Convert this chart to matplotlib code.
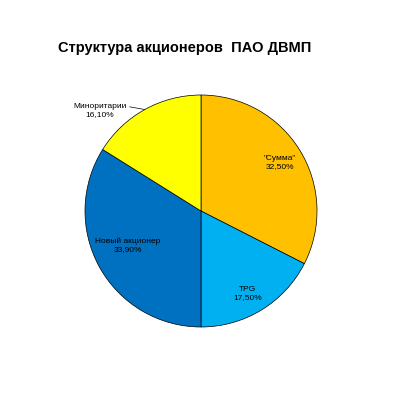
import matplotlib
matplotlib.use("Agg")
import matplotlib.pyplot as plt
import numpy as np

plt.rcParams['font.family'] = ['Liberation Sans', 'DejaVu Sans']

labels = ['"Сумма"', 'TPG', 'Новый акционер', 'Миноритарии']
shares = [32.5, 17.5, 33.9, 16.1]
colors = ['#FFC000', '#00B0F0', '#0070C0', '#FFFF00']

fig = plt.figure(figsize=(4, 4), dpi=100)
ax = fig.add_axes([0.2125, 0.1825, 0.58, 0.58])

wedges, _ = ax.pie(shares, colors=colors, startangle=90, counterclock=False,
                   radius=1.0, wedgeprops=dict(edgecolor='black', linewidth=0.5))
ax.set_xlim(-1, 1)
ax.set_ylim(-1, 1)
ax.set_aspect('equal')

# label distance from centre and small angle tweak per slice
dist = [0.8, 0.82, 0.7, None]
shift = [0, -2, -4, 0]
for w, lab, val, d, s in zip(wedges, labels, shares, dist, shift):
    mid = np.deg2rad((w.theta1 + w.theta2) / 2 + s)
    txt = lab + '\n' + ('%.2f' % val).replace('.', ',') + '%'
    if d is not None:
        ax.text(d * np.cos(mid), d * np.sin(mid), txt, ha='center', va='center',
                fontsize=6.0, linespacing=1.2)
    else:
        ax.annotate(txt, xy=(np.cos(mid), np.sin(mid)),
                    xytext=(-0.87, 0.87), ha='center', va='center',
                    fontsize=6.0, linespacing=1.2,
                    arrowprops=dict(arrowstyle='-', color='black', lw=0.5,
                                    relpos=(1.0, 0.75), shrinkA=0, shrinkB=0))

fig.text(0.145, 0.88, 'Структура акционеров  ПАО ДВМП', fontsize=10.5,
         fontweight='bold', ha='left', va='center')

fig.savefig('out.png', dpi=100)
